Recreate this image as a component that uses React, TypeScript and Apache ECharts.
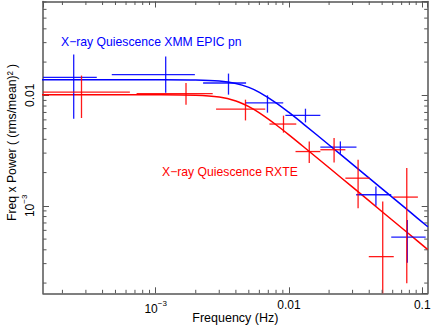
import React, { useEffect, useRef } from "react";
import * as echarts from "echarts";

// XMM EPIC pn (blue) power spectrum points: frequency bin centre / edges, power and error range
const blueFreq = [2.43e-4, 1.19e-3, 3.52e-3, 6.9e-3, 0.0133, 0.0243, 0.0449, 0.0772];
const blueFreqLo = [1.25e-4, 4.69e-4, 2.27e-3, 4.69e-3, 9.4e-3, 0.0172, 0.0319, 0.0585];
const blueFreqHi = [3.62e-4, 1.97e-3, 4.77e-3, 9.06e-3, 0.0172, 0.0321, 0.0585, 0.106];
const bluePower = [0.01456, 0.01542, 0.01294, 0.00854, 0.00659, 0.0034, 0.00126, 0.00052];
const bluePowerLo = [0.00615, 0.01057, 0.01015, 0.00697, 0.00569, 0.00296, 0.001, 0.000306];
const bluePowerHi = [0.0234, 0.02244, 0.01574, 0.01, 0.00757, 0.00383, 0.0015, 0.000746];

// RXTE (red) power spectrum points
const redFreq = [2.78e-4, 1.69e-3, 4.72e-3, 9.1e-3, 0.0142, 0.0218, 0.033, 0.0505, 0.0765];
const redFreqLo = [1.25e-4, 7.2e-4, 2.84e-3, 7.14e-3, 0.0112, 0.0172, 0.0265, 0.0397, 0.0605];
const redFreqHi = [6.41e-4, 2.68e-3, 6.64e-3, 0.01135, 0.0172, 0.0265, 0.0404, 0.0611, 0.0927];
const redPower = [0.0107, 0.01036, 0.0075, 0.0055, 0.0031, 0.00322, 0.00178, 0.000347, 0.0012];
const redPowerLo = [0.00624, 0.00824, 0.00593, 0.0046, 0.00244, 0.00247, 0.000953, 0.0001, 0.000199];
const redPowerHi = [0.0151, 0.01294, 0.00914, 0.00655, 0.00383, 0.00411, 0.00261, 0.001094, 0.0022];

// model curves
const modelFreq = [1.4e-4, 5e-4, 1e-3, 2e-3, 3e-3, 4e-3, 5e-3, 6e-3, 8e-3, 0.01, 0.013, 0.02, 0.03, 0.05, 0.08, 0.11];
const blueModel = [0.01387, 0.01387, 0.01386, 0.01379, 0.01349, 0.01282, 0.01181, 0.01065, 0.00856, 0.007, 0.00544, 0.003554, 0.002371, 0.001423, 0.00089, 0.000647];
const redModel = [0.01015, 0.01015, 0.01014, 0.01004, 0.00965, 0.00888, 0.0079, 0.00694, 0.00542, 0.00439, 0.003393, 0.00221, 0.001475, 0.000885, 0.000553, 0.000402];

// axis ranges and minor ticks
const xRange = [1.43e-4, 0.1098];
const yRange = [1.616e-4, 0.0707];
const xMinorTicks = [2e-4, 3e-4, 4e-4, 5e-4, 6e-4, 7e-4, 8e-4, 9e-4, 2e-3, 3e-3, 4e-3, 5e-3, 6e-3, 7e-3, 8e-3, 9e-3, 0.02, 0.03, 0.04, 0.05, 0.06, 0.07, 0.08, 0.09];
const yMinorTicks = [2e-4, 3e-4, 4e-4, 5e-4, 6e-4, 7e-4, 8e-4, 9e-4, 2e-3, 3e-3, 4e-3, 5e-3, 6e-3, 7e-3, 8e-3, 9e-3, 0.02, 0.03, 0.04, 0.05, 0.06, 0.07];

const FONT = "'Liberation Sans', Arial, Helvetica, sans-serif";
const AXIS_COLOR = "#555";

function zip(f: number[], p: number[], fl: number[], fh: number[], pl: number[], ph: number[]) {
  return f.map((v, i) => [v, p[i], fl[i], fh[i], pl[i], ph[i]]);
}

function errorBarSeries(color: string, data: number[][]) {
  return {
    type: "custom",
    data,
    encode: { x: 0, y: 1 },
    z: 3,
    renderItem: (params: any, api: any) => {
      const cs = params.coordSys;
      const cx = (v: number) => Math.min(Math.max(v, cs.x), cs.x + cs.width);
      const cy = (v: number) => Math.min(Math.max(v, cs.y), cs.y + cs.height);
      const c = api.coord([api.value(0), api.value(1)]);
      const l = api.coord([api.value(2), api.value(1)]);
      const r = api.coord([api.value(3), api.value(1)]);
      const lo = api.coord([api.value(0), api.value(4)]);
      const hi = api.coord([api.value(0), api.value(5)]);
      const style = { stroke: color, lineWidth: 1.3, opacity: 0.9 };
      return {
        type: "group",
        children: [
          { type: "line", shape: { x1: cx(l[0]), y1: c[1], x2: cx(r[0]), y2: c[1] }, style },
          { type: "line", shape: { x1: c[0], y1: cy(lo[1]), x2: c[0], y2: cy(hi[1]) }, style },
        ],
      };
    },
  };
}

function minorTickSeries() {
  const data = [
    ...xMinorTicks.map((v) => [v, 0.01, 0]),
    ...yMinorTicks.map((v) => [0.01, v, 1]),
  ];
  const len = 3.5;
  return {
    type: "custom",
    data,
    encode: { x: 0, y: 1 },
    z: 5,
    silent: true,
    renderItem: (params: any, api: any) => {
      const cs = params.coordSys;
      const style = { stroke: AXIS_COLOR, lineWidth: 1 };
      const p = api.coord([api.value(0), api.value(1)]);
      if (api.value(2) === 0) {
        const x = p[0];
        return {
          type: "group",
          children: [
            { type: "line", shape: { x1: x, y1: cs.y + cs.height, x2: x, y2: cs.y + cs.height - len }, style },
            { type: "line", shape: { x1: x, y1: cs.y, x2: x, y2: cs.y + len }, style },
          ],
        };
      }
      const y = p[1];
      return {
        type: "group",
        children: [
          { type: "line", shape: { x1: cs.x, y1: y, x2: cs.x + len, y2: y }, style },
          { type: "line", shape: { x1: cs.x + cs.width, y1: y, x2: cs.x + cs.width - len, y2: y }, style },
        ],
      };
    },
  };
}

function powLabel(v: number) {
  const e = Math.round(Math.log10(v));
  if (Math.abs(Math.log10(v) - e) > 1e-6) return "";
  if (e === -2) return "0.01";
  if (e === -1) return "0.1";
  return "{b|10}{s|\u2212" + Math.abs(e) + "}";
}

const rich = {
  b: { fontSize: 12, fontFamily: FONT, color: "#000", lineHeight: 16, verticalAlign: "bottom" },
  s: { fontSize: 8, fontFamily: FONT, color: "#000", lineHeight: 16, verticalAlign: "top" },
};

export default function App() {
  const ref = useRef<HTMLDivElement>(null);
  useEffect(() => {
    if (!ref.current) return;
    const chart = echarts.init(ref.current, undefined, { renderer: "svg" });
    const axisLine = { show: true, lineStyle: { color: AXIS_COLOR, width: 1.5 } };
    const majorTick = { show: true, inside: true, length: 6, lineStyle: { color: AXIS_COLOR, width: 1 } };
    chart.setOption({
      animation: false,
      grid: { left: 43, top: 1.5, right: 8.3, bottom: 33.7, containLabel: false, outerBoundsMode: "none" },
      xAxis: [
        {
          type: "log",
          logBase: 10,
          min: xRange[0],
          max: xRange[1],
          axisLine,
          axisTick: majorTick,
          splitLine: { show: false },
          axisLabel: {
            show: true,
            margin: 6,
            showMinLabel: false,
            showMaxLabel: false,
            color: "#000",
            fontSize: 12,
            fontFamily: FONT,
            formatter: powLabel,
            rich,
          },
          name: "Frequency (Hz)",
          nameLocation: "middle",
          nameGap: 18,
          nameMoveOverlap: false,
          nameTextStyle: { color: "#000", fontSize: 12.5, fontFamily: FONT },
        },
        {
          type: "log",
          logBase: 10,
          position: "top",
          min: xRange[0],
          max: xRange[1],
          axisLine,
          axisTick: majorTick,
          splitLine: { show: false },
          axisLabel: { show: false },
        },
      ],
      yAxis: [
        {
          type: "log",
          logBase: 10,
          min: yRange[0],
          max: yRange[1],
          axisLine,
          axisTick: majorTick,
          splitLine: { show: false },
          axisLabel: {
            show: true,
            rotate: 90,
            margin: 7,
            showMinLabel: false,
            showMaxLabel: false,
            color: "#000",
            fontSize: 12,
            fontFamily: FONT,
            formatter: powLabel,
            rich,
          },
          name: "Freq x Power ( (rms/mean)\u00B2 )",
          nameLocation: "middle",
          nameGap: 25,
          nameRotate: 90,
          nameMoveOverlap: false,
          nameTextStyle: { color: "#000", fontSize: 12.2, fontFamily: FONT, padding: [0, 0, 0, 10] },
        },
        {
          type: "log",
          logBase: 10,
          position: "right",
          min: yRange[0],
          max: yRange[1],
          axisLine,
          axisTick: majorTick,
          splitLine: { show: false },
          axisLabel: { show: false },
        },
      ],
      series: [
        {
          type: "line",
          data: modelFreq.map((f, i) => [f, blueModel[i]]),
          showSymbol: false,
          smooth: 0.3,
          lineStyle: { color: "#0000ff", width: 1.5 },
          z: 2,
        },
        {
          type: "line",
          data: modelFreq.map((f, i) => [f, redModel[i]]),
          showSymbol: false,
          smooth: 0.3,
          lineStyle: { color: "#ff0000", width: 1.5 },
          z: 2,
        },
        errorBarSeries("#0000ff", zip(blueFreq, bluePower, blueFreqLo, blueFreqHi, bluePowerLo, bluePowerHi)),
        errorBarSeries("#ff0000", zip(redFreq, redPower, redFreqLo, redFreqHi, redPowerLo, redPowerHi)),
        minorTickSeries(),
      ],
      graphic: [
        {
          type: "text",
          left: 61,
          top: 36,
          style: { text: "X\u2212ray Quiescence XMM EPIC pn", fill: "#0000ff", fontSize: 12.2, fontFamily: FONT },
        },
        {
          type: "text",
          left: 162,
          top: 166,
          style: { text: "X\u2212ray Quiescence RXTE", fill: "#ff0000", fontSize: 12.2, fontFamily: FONT },
        },
      ],
    });
    return () => chart.dispose();
  }, []);
  return (
    <div
      ref={ref}
      style={{ position: "absolute", left: 0, top: 0, width: 436, height: 327, background: "#fff" }}
    />
  );
}
